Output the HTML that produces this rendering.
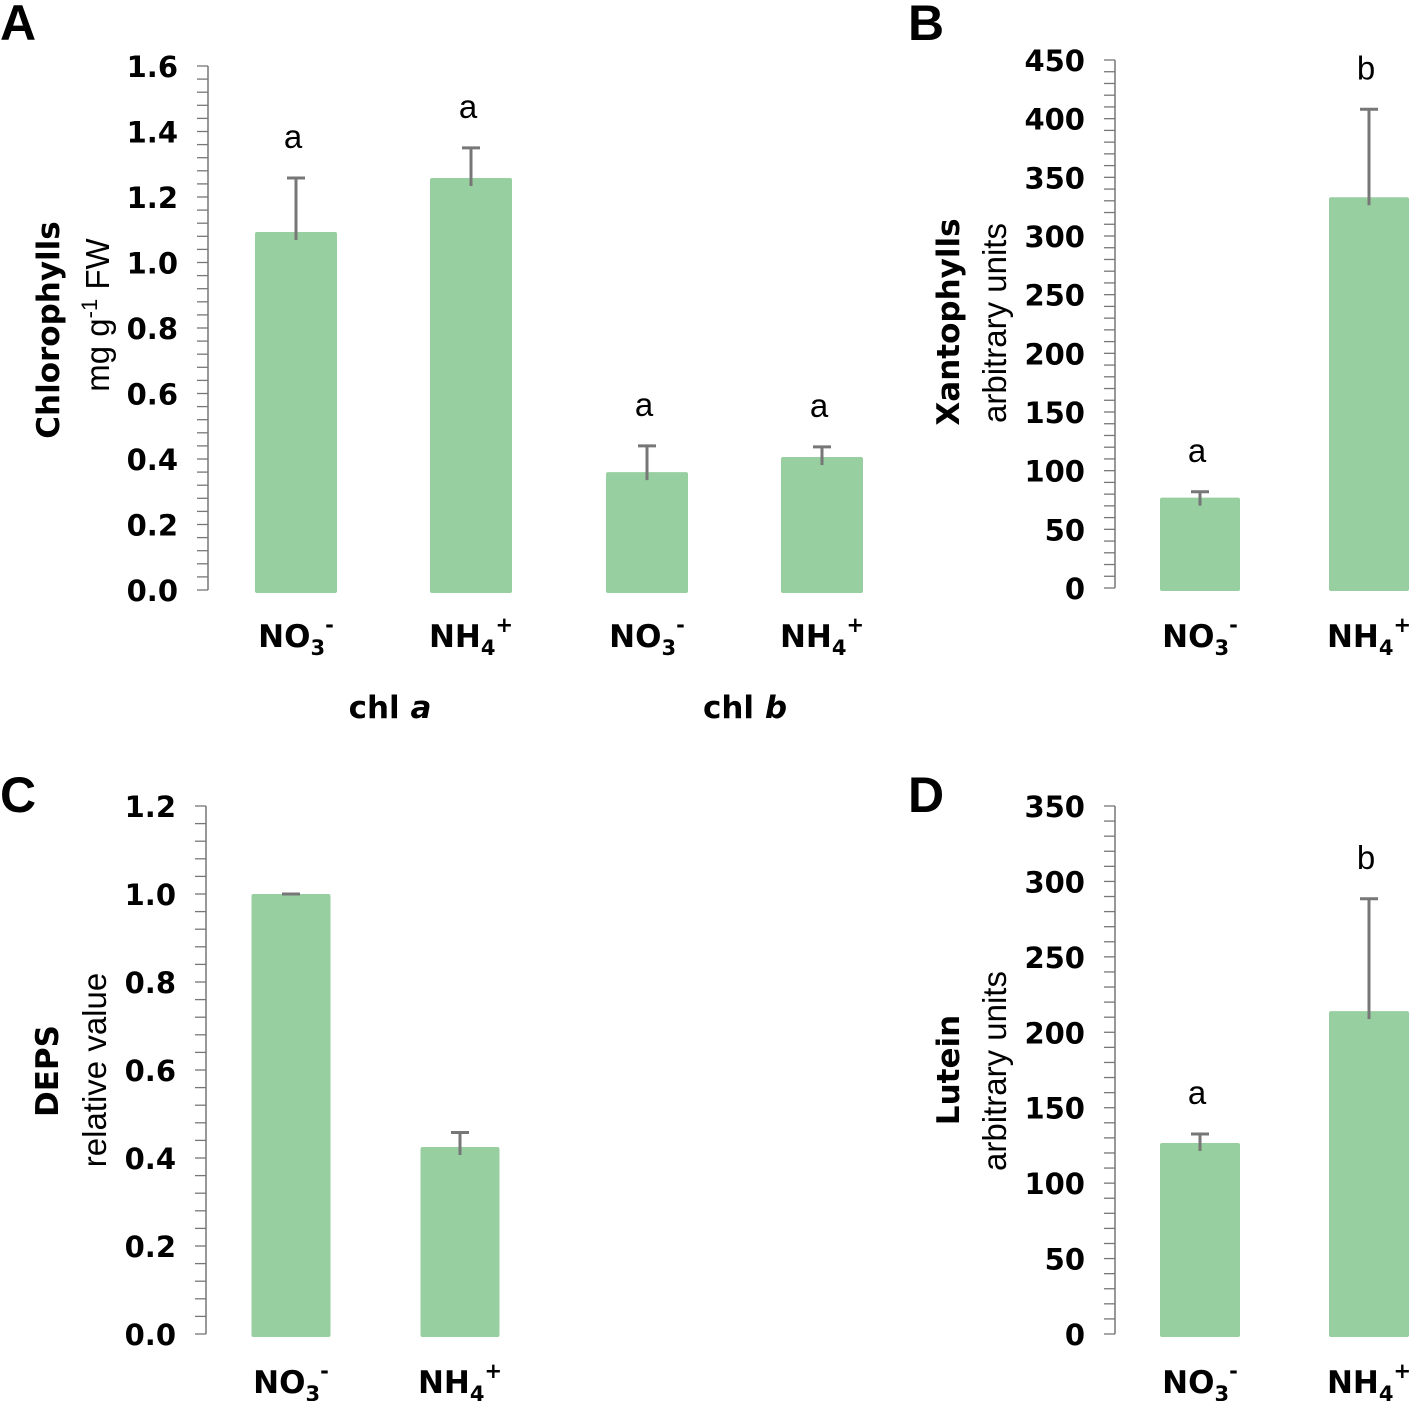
<!DOCTYPE html>
<html><head><meta charset="utf-8"><style>
html,body{margin:0;padding:0;background:#fff;}
svg{display:block;font-family:"Liberation Sans",sans-serif;}
.tick{font-family:"DejaVu Sans","Liberation Sans",sans-serif;font-weight:bold;font-size:29px;fill:#000;}
.cat{font-family:"DejaVu Sans","Liberation Sans",sans-serif;font-weight:bold;font-size:31px;fill:#000;}
.let{font-family:"Liberation Sans",sans-serif;font-size:33px;fill:#000;}
.panel{font-family:"Liberation Sans",sans-serif;font-weight:bold;font-size:50px;fill:#000;}
.yt1{font-family:"DejaVu Sans","Liberation Sans",sans-serif;font-weight:bold;font-size:31px;}
.yt2{font-family:"Liberation Sans",sans-serif;font-size:33px;}
</style></head><body>
<svg id="fig" width="1417" height="1401" viewBox="0 0 1417 1401"></svg>
<script>
// Panel A data
const aCategories = ["NO3-", "NH4+", "NO3-", "NH4+"];
const aValues = [1.093, 1.258, 0.36, 0.406];
const aErrors = [0.165, 0.092, 0.08, 0.031];
const aLetters = ["a", "a", "a", "a"];
const aTicks = ["0.0","0.2","0.4","0.6","0.8","1.0","1.2","1.4","1.6"];
// Panel B data
const bCategories = ["NO3-", "NH4+"];
const bValues = [77, 333];
const bErrors = [5, 75];
const bLetters = ["a", "b"];
const bTicks = ["0","50","100","150","200","250","300","350","400","450"];
// Panel C data
const cCategories = ["NO3-", "NH4+"];
const cValues = [1.0, 0.425];
const cErrors = [0, 0.033];
const cLetters = ["", ""];
const cTicks = ["0.0","0.2","0.4","0.6","0.8","1.0","1.2"];
// Panel D data
const dCategories = ["NO3-", "NH4+"];
const dValues = [126.6, 214];
const dErrors = [6, 74.5];
const dLetters = ["a", "b"];
const dTicks = ["0","50","100","150","200","250","300","350"];

const NS = "http://www.w3.org/2000/svg";
const svg = document.getElementById("fig");
function mk(tag, attrs, parent, text){
  const e = document.createElementNS(NS, tag);
  for (const k in attrs) e.setAttribute(k, attrs[k]);
  if (text !== undefined) e.textContent = text;
  (parent || svg).appendChild(e);
  return e;
}
function catLabel(g, cx, y, cat){
  const base = cat.slice(0,2), num = cat[2], sign = cat[3];
  const t = mk("text", {x: cx, y: y, "text-anchor": "middle", class: "cat"}, g);
  
  
  mk("tspan", {}, t, base);
  mk("tspan", {dy: 8, "font-size": "21"}, t, num);
  mk("tspan", {dy: -23, "font-size": "21"}, t, sign === "+" ? "+" : "-");
}
function panel(o){
  const g = mk("g", {});
  
  
  const max = o.max;
  const y = v => o.y0 - (v / max) * (o.y0 - o.yTop);
  const ax = mk("line", {x1: o.ax, y1: o.yTop, x2: o.ax, y2: o.y0, stroke: "#777", "stroke-width": 1.5}, g);
  
  
  for (let v = 0; v <= max + 1e-9; v += o.minor){
    mk("line", {x1: o.ax - 11, y1: y(v), x2: o.ax, y2: y(v), stroke: "#777", "stroke-width": 1.3}, g);
  }
  o.ticks.forEach(t => {
    const tl = mk("text", {x: o.ax - 30, y: y(parseFloat(t)) + 11, "text-anchor": "end", class: "tick"}, g, t);
    
    
  });
  o.values.forEach((v, i) => {
    const cx = o.cx[i];
    const b = mk("rect", {x: cx - o.bw/2, y: y(v), width: o.bw, height: o.y0 + 3 - y(v), fill: "#97cfa0", rx: 2}, g);
    
    
    const e = o.errors[i];
    const eg = mk("g", {stroke: "#777", "stroke-width": 3}, g);
    
    
    if (e > 0) mk("line", {x1: cx, y1: y(v) + 8, x2: cx, y2: y(v + e)}, eg);
    mk("line", {x1: cx - 9, y1: y(v + e), x2: cx + 9, y2: y(v + e)}, eg);
    if (o.letters[i]){
      const l = mk("text", {x: cx - 3, y: y(v + e) - 30, "text-anchor": "middle", class: "let"}, g, o.letters[i]);
      
      
    }
    catLabel(g, cx, o.catY, o.cats[i]);
  });
  const pl = mk("text", {x: o.px, y: o.py, class: "panel"}, g, o.letter);
  
  
  const t1 = mk("text", {transform: `translate(${o.t1x},${o.tyc}) rotate(-90)`, "text-anchor": "middle", class: "yt1"}, g, o.title);
  
  
  const t2 = mk("text", {transform: `translate(${o.t2x},${o.tyc2}) rotate(-90)`, "text-anchor": "middle", class: "yt2"}, g);
  
  
  if (o.unitSup){
    mk("tspan", {}, t2, "mg g");
    mk("tspan", {dy: -12, "font-size": "22"}, t2, "-1");
    mk("tspan", {dy: 12}, t2, " FW");
  } else t2.textContent = o.unit;
}
panel({name:"panel-a-chlorophylls", max:1.6, minor:0.04, ax:208, yTop:66, y0:590, ticks:aTicks, values:aValues, errors:aErrors, letters:aLetters, cats:aCategories,
  cx:[296,471,647,822], bw:82, catY:647, px:0, py:40, letter:"A", title:"Chlorophylls", t1x:59, tyc:330, t2x:109, tyc2:315, unitSup:true});
panel({name:"panel-b-xantophylls", max:450, minor:10, ax:1115, yTop:60, y0:588, ticks:bTicks, values:bValues, errors:bErrors, letters:bLetters, cats:bCategories,
  cx:[1200,1369], bw:80, catY:647, px:908, py:40, letter:"B", title:"Xantophylls", t1x:959, tyc:322, t2x:1006, tyc2:323, unit:"arbitrary units"});
panel({name:"panel-c-deps", max:1.2, minor:0.04, ax:206, yTop:806, y0:1334, ticks:cTicks, values:cValues, errors:cErrors, letters:cLetters, cats:cCategories,
  cx:[291,460], bw:79, catY:1393, px:0, py:812, letter:"C", title:"DEPS", t1x:58, tyc:1071, t2x:106, tyc2:1070, unit:"relative value"});
panel({name:"panel-d-lutein", max:350, minor:10, ax:1115, yTop:806, y0:1334, ticks:dTicks, values:dValues, errors:dErrors, letters:dLetters, cats:dCategories,
  cx:[1200,1369], bw:80, catY:1393, px:908, py:812, letter:"D", title:"Lutein", t1x:959, tyc:1070, t2x:1006, tyc2:1071, unit:"arbitrary units"});
const g1 = mk("text", {x: 390, y: 718, "text-anchor": "middle", class: "cat"});


mk("tspan", {}, g1, "chl ");
mk("tspan", {"font-style": "italic"}, g1, "a");
const g2 = mk("text", {x: 745, y: 718, "text-anchor": "middle", class: "cat"});


mk("tspan", {}, g2, "chl ");
mk("tspan", {"font-style": "italic"}, g2, "b");
</script>
</body></html>
